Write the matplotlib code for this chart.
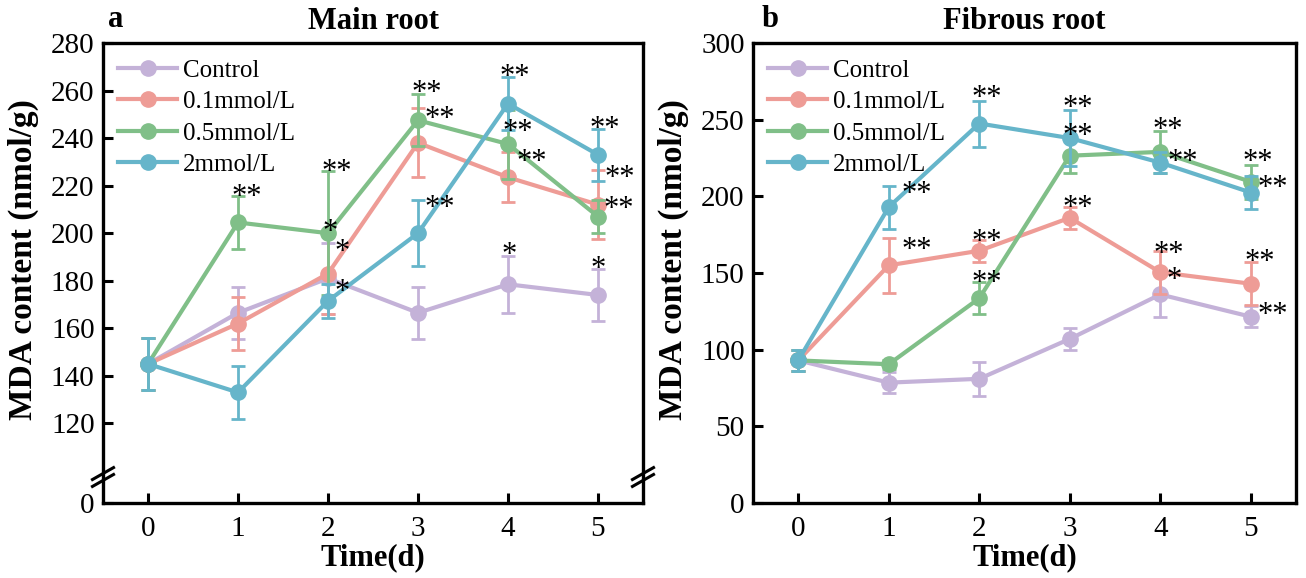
import numpy as np
import matplotlib
matplotlib.use("Agg")
import matplotlib.pyplot as plt
from matplotlib.lines import Line2D

plt.rcParams['font.family'] = ['Liberation Serif', 'DejaVu Serif']
plt.rcParams['mathtext.fontset'] = 'stix'

# ---------------- data ----------------
days = [0, 1, 2, 3, 4, 5]
series_names = ["Control", "0.1mmol/L", "0.5mmol/L", "2mmol/L"]
colors = ["#C4B2D8", "#EE9C96", "#80BF88", "#66B5CA"]

# Main root
ctrl_main = [145, 166.5, 181, 166.5, 178.5, 174]
ctrl_main_err = [11, 11, 15, 11, 12, 11]
low_main = [145, 162, 183, 238, 223.5, 212]
low_main_err = [11, 11, 17, 14.5, 10.5, 14.5]
mid_main = [145, 204.5, 200, 247.5, 237.5, 207]
mid_main_err = [11, 11, 26, 11, 14.5, 7]
high_main = [145, 133, 171.5, 200, 254.5, 233]
high_main_err = [11, 11, 7, 14, 11, 11]

# Fibrous root
ctrl_fib = [93, 78.5, 81, 107, 136, 121.5]
ctrl_fib_err = [7, 7, 11, 7, 15, 7]
low_fib = [93, 155, 164.5, 186, 150.5, 143]
low_fib_err = [7, 18, 7, 7, 14, 14]
mid_fib = [93, 90.5, 133.5, 226.5, 229, 209.5]
mid_fib_err = [7, 3, 10.5, 11, 13.5, 11]
high_fib = [93, 193, 247.5, 238, 222, 202.5]
high_fib_err = [7, 14, 15, 18, 7, 11]

# significance marks (x, y, text)
stars_main_x = [1.1, 2.1, 2.02, 2.16, 2.16, 3.1, 3.24, 3.24, 4.08, 4.11, 4.26, 4.01, 5.08, 5.24, 5.23, 5.0]
stars_main_y = [219, 229.5, 204.5, 196, 179, 263, 252, 214.5, 269.5, 246.5, 234, 194.5, 247.5, 227, 214, 189]
stars_main_t = ['**', '**', '*', '*', '*', '**', '**', '**', '**', '**', '**', '*', '**', '**', '**', '*']

stars_fib_x = [1.31, 1.31, 2.08, 2.08, 2.08, 3.09, 3.09, 3.09, 4.08, 4.25, 4.09, 4.15, 5.08, 5.24, 5.1, 5.24]
stars_fib_y = [207.5, 171.3, 270, 176.5, 149.6, 263.5, 245.5, 198.4, 249.4, 228.6, 168.5, 151.2, 228.5, 211.5, 163.1, 128.8]
stars_fib_t = ['**', '**', '**', '**', '**', '**', '**', '**', '**', '**', '**', '*', '**', '**', '**', '**']

main_ticks = [0, 120, 140, 160, 180, 200, 220, 240, 260, 280]
fib_ticks = [0, 50, 100, 150, 200, 250, 300]

# ---------------- figure ----------------
W, H = 1306, 578
fig = plt.figure(figsize=(W / 100, H / 100), dpi=100)
axL = fig.add_axes([103 / W, 75 / H, 540 / W, 460 / H])
axR = fig.add_axes([753 / W, 75 / H, 543 / W, 460 / H])

# broken scale for main root
def fwd(y):
    y = np.asarray(y, dtype=float)
    return np.where(y >= 100, y, 86.5 + 0.135 * y)

def inv(f):
    f = np.asarray(f, dtype=float)
    return np.where(f >= 100, f, (f - 86.5) / 0.135)

axL.set_yscale('function', functions=(fwd, inv))


def draw(ax, vals, errs, sx, sy, st):
    handles = []
    for i, (v, e) in enumerate(zip(vals, errs)):
        ax.errorbar(days, v, yerr=e, color=colors[i], lw=3.0, marker='o', ms=11,
                    elinewidth=2.0, capsize=5, capthick=2.0, zorder=3 + i)
        handles.append(Line2D([], [], color=colors[i], lw=3.0, marker='o', ms=11,
                              label=series_names[i]))
    for x, y, t in zip(sx, sy, st):
        ax.annotate(t, (x, y), xytext=(0, -7), textcoords='offset points',
                    ha='center', va='center', fontsize=22, zorder=10)
    ax.set_xlim(-0.5, 5.5)
    ax.set_xticks(days)
    for sp in ax.spines.values():
        sp.set_linewidth(2.4)
    ax.tick_params(direction='in', length=7, width=2.2, labelsize=21, pad=6)
    ax.tick_params(axis='x', pad=9)
    ax.set_xlabel('Time(d)', fontsize=22, fontweight='bold')
    ax.set_ylabel('MDA content (nmol/g)', fontsize=24, fontweight='bold')
    ax.yaxis.set_label_coords(-0.118, 0.53)
    ax.xaxis.set_label_coords(0.5, -0.088)
    ax.legend(handles=handles, loc='upper left', frameon=False, fontsize=18,
              handlelength=2.36, handletextpad=0.24, labelspacing=0.36,
              borderpad=0.0, borderaxespad=0.0, bbox_to_anchor=(0.028, 0.965))


vals_main = [ctrl_main, low_main, mid_main, high_main]
errs_main = [ctrl_main_err, low_main_err, mid_main_err, high_main_err]
vals_fib = [ctrl_fib, low_fib, mid_fib, high_fib]
errs_fib = [ctrl_fib_err, low_fib_err, mid_fib_err, high_fib_err]

draw(axL, vals_main, errs_main, stars_main_x, stars_main_y, stars_main_t)
draw(axR, vals_fib, errs_fib, stars_fib_x, stars_fib_y, stars_fib_t)

axL.set_ylim(0, 280)
axL.set_yticks(main_ticks)
axL.set_yticklabels([str(t) for t in main_ticks])
axL.minorticks_off()
axR.set_ylim(0, 300)
axR.set_yticks(fib_ticks)

# break marks on left panel
yb = 0.0565
for xs in (0.0, 1.0):
    for off in (-0.0075, 0.0075):
        axL.plot([xs - 0.0195, xs + 0.0195], [yb + off - 0.013, yb + off + 0.013],
                 transform=axL.transAxes, color='black', lw=2.2, clip_on=False, zorder=20)

axL.set_title('Main root', fontsize=22, fontweight='bold', pad=10)
axR.set_title('Fibrous root', fontsize=22, fontweight='bold', pad=10)
axL.text(0.01, 1.035, 'a', transform=axL.transAxes, fontsize=22, fontweight='bold', ha='left', va='baseline')
axR.text(0.016, 1.035, 'b', transform=axR.transAxes, fontsize=22, fontweight='bold', ha='left', va='baseline')

fig.savefig('out.png', dpi=100)
